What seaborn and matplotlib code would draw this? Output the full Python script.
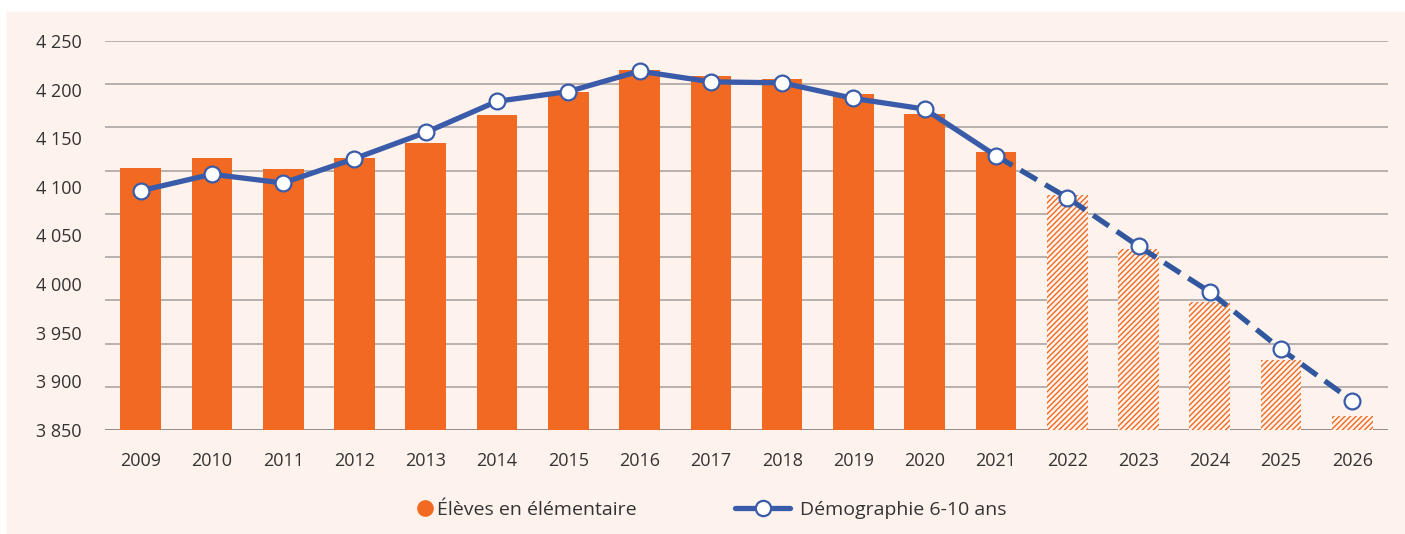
import numpy as np
import pandas as pd
import seaborn as sns
import matplotlib.pyplot as plt
from matplotlib.lines import Line2D
from matplotlib.patches import Rectangle

# values (thousands)
years = [str(y) for y in range(2009, 2027)]
eleves = [4119, 4130, 4118, 4130, 4145, 4174, 4198, 4220, 4214, 4211,
          4195, 4175, 4136, 4092, 4036, 3982, 3922, 3864]
demographie = [4096, 4113, 4104, 4129, 4156, 4188, 4198, 4219, 4208, 4207,
               4191, 4180, 4132, 4089, 4039, 3992, 3933, 3880]
first_projected = 13  # 2022 onwards are projections
yticks = list(range(3850, 4251, 50))

df = pd.DataFrame({'annee': years, 'eleves': eleves, 'demo': demographie})
df['pos'] = np.arange(len(df))

orange = '#F26A21'
blue = '#3A5BA9'
bg = '#FDF2EC'

sns.set_theme(style='white')
plt.rcParams['font.family'] = ['Open Sans', 'DejaVu Sans']

fig = plt.figure(figsize=(14.05, 5.34), dpi=100)
fig.patch.set_facecolor('white')
fig.patches.append(Rectangle((7 / 1405, 0), 1, (534 - 12) / 534,
                             transform=fig.transFigure, color=bg, zorder=-10))

ax = fig.add_axes([105 / 1405, 104 / 534, (1388 - 105) / 1405, (430 - 41) / 534])
ax.set_facecolor(bg)

# horizontal grid (10 lines over the range, as in the original)
for i, v in enumerate(np.linspace(3850, 4250, 10)):
    ax.axhline(v, color='#7F7A78' if i == 0 else '#A9A5A3', lw=1.2, zorder=0)

sns.barplot(data=df, x='annee', y='eleves', color=orange, width=0.57,
            saturation=1, ax=ax, zorder=2)
plt.rcParams['hatch.linewidth'] = 1.6
for i, p in enumerate(ax.patches):
    p.set_linewidth(0)
    if i >= first_projected:
        p.set_facecolor(bg)
        p.set_edgecolor(orange)
        p.set_hatch('//////')

solid = df[df['pos'] <= first_projected - 1]
dashed = df[df['pos'] >= first_projected - 1]
sns.lineplot(data=solid, x='pos', y='demo', color=blue, lw=3.8, ax=ax, zorder=4)
sns.lineplot(data=dashed, x='pos', y='demo', color='#31589F', lw=3.8, ax=ax,
             zorder=4).lines[-1].set_dashes((3.6, 1.8))
sns.scatterplot(data=df, x='pos', y='demo', color='white', edgecolor=blue,
                linewidth=1.6, s=130, ax=ax, zorder=5)

ax.set_ylim(3850, 4250)
ax.set_xlim(-0.5, len(years) - 0.5)
ax.set_yticks(yticks)
ax.set_yticklabels([f'{v // 1000} {v % 1000:03d}' for v in yticks])
ax.set_xticks(range(len(years)))
ax.set_xticklabels(years)
ax.tick_params(axis='y', length=0, pad=17, labelsize=13, labelcolor='#333333')
ax.tick_params(axis='x', length=0, pad=16, labelsize=13, labelcolor='#333333')
ax.set_xlabel('')
ax.set_ylabel('')
sns.despine(ax=ax, left=True, bottom=True)

# two separate legend entries so each sits where it does in the original
leg_y = 24 / 534
dot = Line2D([], [], marker='o', color=orange, linestyle='none', markersize=11)
fig.legend([dot], ['Élèves en élémentaire'], loc='center left',
           bbox_to_anchor=(418 / 1405, leg_y), frameon=False,
           fontsize=14, handlelength=0.7, handletextpad=0.3,
           borderpad=0, borderaxespad=0, labelcolor='#333333')
demo = Line2D([], [], color=blue, lw=3.8, marker='o', markerfacecolor='white',
              markeredgecolor=blue, markeredgewidth=1.6, markersize=11)
fig.legend([demo], ['Démographie 6-10 ans'], loc='center left',
           bbox_to_anchor=(735 / 1405, leg_y), frameon=False,
           fontsize=14, handlelength=2.83, handletextpad=0.5,
           borderpad=0, borderaxespad=0, labelcolor='#333333')

fig.savefig('out.png', dpi=100, facecolor=fig.get_facecolor())
